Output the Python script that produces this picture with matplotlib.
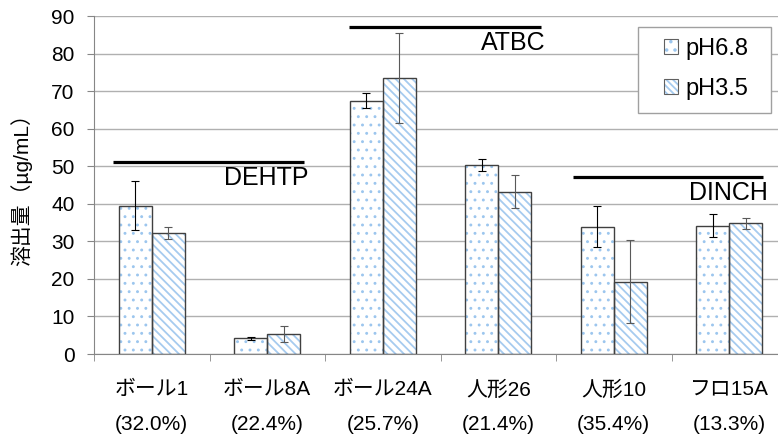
import numpy as np
import matplotlib
matplotlib.use('Agg')
import matplotlib.pyplot as plt
from matplotlib.patches import Patch, Rectangle

# fonts: Arial-like for latin, CJK for the japanese labels
plt.rcParams['font.family'] = ['Liberation Sans', 'Noto Sans CJK JP']
plt.rcParams['hatch.linewidth'] = 1.3

# data
samples = ['ボール1', 'ボール8A', 'ボール24A', '人形26', '人形10', 'フロ15A']
contents = ['(32.0%)', '(22.4%)', '(25.7%)', '(21.4%)', '(35.4%)', '(13.3%)']
ph68 = [39.5, 4.2, 67.4, 50.2, 33.9, 34.2]
ph68_err = [6.6, 0.4, 2.0, 1.6, 5.4, 3.0]
ph35 = [32.1, 5.3, 73.5, 43.2, 19.3, 34.8]
ph35_err = [1.6, 2.2, 12.1, 4.4, 11.1, 1.5]

# plasticizer groups: (name, x start, x end, y level)
groups = [('DEHTP', -0.335, 1.318, 51),
          ('ATBC', 1.708, 3.370, 87),
          ('DINCH', 3.647, 5.292, 47)]

fig = plt.figure(figsize=(7.78, 4.38), dpi=100)
ax = fig.add_axes([94 / 778, 1 - 354 / 438, 693 / 778, 338 / 438])

x = np.arange(len(samples))
w = 0.285
dot_blue = '#9cc6ee'
stripe_blue = '#a6cbef'
edge = '#404040'


def thin_hatch(patches, lw):
    # smaller dots: hatch width per patch if this matplotlib has it
    for p in patches:
        if hasattr(p, 'set_hatch_linewidth'):
            p.set_hatch_linewidth(lw)
        else:
            p._hatch_linewidth = lw


# hatch layers first, then outlines on top
dots = ax.bar(x - w / 2, ph68, w, color='white', edgecolor=dot_blue, hatch='..', linewidth=0, zorder=2)
thin_hatch(dots, 0.9)
dot_handle = Patch(facecolor='white', edgecolor=dot_blue, hatch='..', linewidth=0)
thin_hatch([dot_handle], 0.9)
ax.bar(x + w / 2, ph35, w, color='white', edgecolor=stripe_blue, hatch='\\\\\\\\', linewidth=0, zorder=2)
stripe_handle = Patch(facecolor='white', edgecolor=stripe_blue, hatch='\\\\\\\\\\', linewidth=0)
ax.bar(x - w / 2, ph68, w, fill=False, edgecolor=edge, linewidth=1.0, zorder=3)
ax.bar(x + w / 2, ph35, w, fill=False, edgecolor=edge, linewidth=1.0, zorder=3)
outline = Patch(fill=False, edgecolor='#606060', linewidth=0.8)

ax.errorbar(x - w / 2, ph68, yerr=ph68_err, fmt='none', ecolor='black', elinewidth=0.8, capsize=3, capthick=0.8, zorder=4)
ax.errorbar(x + w / 2, ph35, yerr=ph35_err, fmt='none', ecolor='#595959', elinewidth=0.8, capsize=3, capthick=0.8, zorder=4)

# group lines with labels under their right end
for name, x0, x1, yv in groups:
    ax.plot([x0, x1], [yv, yv], color='black', linewidth=2.3, zorder=5, solid_capstyle='butt')
    ax.text(x1 + 0.04, yv - 0.9, name, ha='right', va='top', fontsize=18, zorder=5)

ax.set_xlim(-0.5, 5.5)
ax.set_ylim(0, 90)
ax.set_yticks(np.arange(0, 91, 10))
ax.yaxis.grid(True, color='#b0b0b0', linewidth=1.0)
ax.set_axisbelow(True)

ax.set_xticks(x)
ax.set_xticklabels([s + '\n' + c for s, c in zip(samples, contents)], fontsize=15, linespacing=2.05)
ax.set_xticks(np.arange(-0.5, 6, 1), minor=True)
ax.tick_params(axis='x', which='major', length=0, pad=19)
ax.tick_params(axis='x', which='minor', length=5, color='#868686')
ax.tick_params(axis='y', length=5, color='#868686', labelsize=15, pad=9)

for side in ['top', 'right']:
    ax.spines[side].set_visible(False)
ax.spines['left'].set_color('#868686')
ax.spines['bottom'].set_color('#868686')

ax.set_ylabel('溶出量（µg/mL）', fontsize=15, labelpad=14)

# legend box drawn by hand so its padding can match
box = Rectangle((638 / 778, 1 - 113 / 438), 133 / 778, 86 / 438, transform=fig.transFigure,
                facecolor='white', edgecolor='#a0a0a0', linewidth=1.0, zorder=6)
fig.add_artist(box)
leg = fig.legend([(dot_handle, outline), (stripe_handle, outline)], ['pH6.8', 'pH3.5'],
                 loc='center', bbox_to_anchor=(706 / 778, 1 - 69 / 438),
                 fontsize=17, frameon=False,
                 handlelength=0.6, handleheight=0.6, handletextpad=0.3, labelspacing=0.75,
                 borderpad=0, borderaxespad=0)
leg.set_zorder(7)

fig.savefig('out.png', dpi=100)
